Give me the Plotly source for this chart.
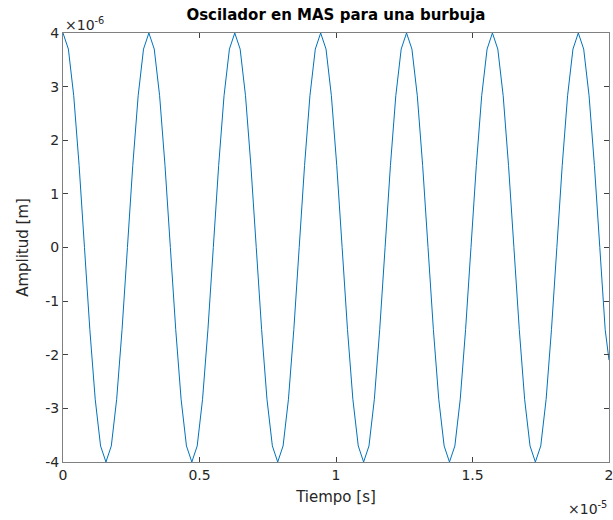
import plotly.graph_objects as go

# Time samples (microseconds) and amplitude (micrometres)
time_us = [0.000, 0.197, 0.393, 0.590, 0.787, 0.983, 1.180, 1.376, 1.573, 1.770,
           1.966, 2.163, 2.360, 2.556, 2.753, 2.949, 3.146, 3.343, 3.539, 3.736,
           3.933, 4.129, 4.326, 4.522, 4.719, 4.916, 5.112, 5.309, 5.506, 5.702,
           5.899, 6.096, 6.292, 6.489, 6.685, 6.882, 7.079, 7.275, 7.472, 7.669,
           7.865, 8.062, 8.258, 8.455, 8.652, 8.848, 9.045, 9.242, 9.438, 9.635,
           9.831, 10.028, 10.225, 10.421, 10.618, 10.815, 11.011, 11.208, 11.405, 11.601,
           11.798, 11.994, 12.191, 12.388, 12.584, 12.781, 12.978, 13.174, 13.371, 13.567,
           13.764, 13.961, 14.157, 14.354, 14.551, 14.747, 14.944, 15.140, 15.337, 15.534,
           15.730, 15.927, 16.124, 16.320, 16.517, 16.714, 16.910, 17.107, 17.303, 17.500,
           17.697, 17.893, 18.090, 18.287, 18.483, 18.680, 18.876, 19.073, 19.270, 19.466,
           19.663, 19.860, 20.000]

amp_um = [4.00, 3.70, 2.83, 1.53, 0.00, -1.53, -2.83, -3.70, -4.00, -3.70,
          -2.83, -1.53, 0.00, 1.53, 2.83, 3.70, 4.00, 3.70, 2.83, 1.53,
          0.00, -1.53, -2.83, -3.70, -4.00, -3.70, -2.83, -1.53, 0.00, 1.53,
          2.83, 3.70, 4.00, 3.70, 2.83, 1.53, 0.00, -1.53, -2.83, -3.70,
          -4.00, -3.70, -2.83, -1.53, 0.00, 1.53, 2.83, 3.70, 4.00, 3.70,
          2.83, 1.53, 0.00, -1.53, -2.83, -3.70, -4.00, -3.70, -2.83, -1.53,
          0.00, 1.53, 2.83, 3.70, 4.00, 3.70, 2.83, 1.53, 0.00, -1.53,
          -2.83, -3.70, -4.00, -3.70, -2.83, -1.53, 0.00, 1.53, 2.83, 3.70,
          4.00, 3.70, 2.83, 1.53, 0.00, -1.53, -2.83, -3.70, -4.00, -3.70,
          -2.83, -1.53, 0.00, 1.53, 2.83, 3.70, 4.00, 3.70, 2.83, 1.53,
          0.00, -1.53, -2.10]

x_tickvals = [0, 0.5e-5, 1e-5, 1.5e-5, 2e-5]
x_ticktext = ["0", "0.5", "1", "1.5", "2"]
y_tickvals = [-4e-6, -3e-6, -2e-6, -1e-6, 0, 1e-6, 2e-6, 3e-6, 4e-6]
y_ticktext = ["-4", "-3", "-2", "-1", "0", "1", "2", "3", "4"]

t = [v * 1e-6 for v in time_us]
a = [v * 1e-6 for v in amp_um]

FONT = "DejaVu Sans"
AX = "#262626"

fig = go.Figure()
fig.add_trace(go.Scatter(x=t, y=a, mode="lines",
                         line=dict(color="#0072BD", width=1)))

axis_common = dict(showline=True, linecolor="#808080", linewidth=1, mirror="allticks",
                   ticks="inside", ticklen=5, tickcolor="#404040", showgrid=False,
                   zeroline=False, ticklabeloverflow="allow", automargin=False,
                   tickfont=dict(family=FONT, size=14, color=AX))

fig.update_layout(
    width=613, height=520,
    margin=dict(l=63, r=4, t=33, b=58),
    paper_bgcolor="white", plot_bgcolor="white",
    showlegend=False,
    title=dict(text="<b>Oscilador en MAS para una burbuja</b>", x=0.548, xanchor="center",
               y=0.972, yanchor="middle", font=dict(family=FONT, size=15, color="#000000"),
               automargin=False),
    xaxis=dict(range=[0, 2.00001e-5], tickvals=x_tickvals, ticktext=x_ticktext,
               title=dict(text="Tiempo [s]", font=dict(family=FONT, size=15, color=AX), standoff=9),
               **axis_common),
    yaxis=dict(range=[-4e-6, 4e-6], tickvals=y_tickvals, ticktext=y_ticktext,
               title=dict(text="Amplitud [m]", font=dict(family=FONT, size=15, color=AX), standoff=12),
               **axis_common),
)

fig.add_annotation(text="×10<sup>-6</sup>", xref="paper", yref="paper", x=0, y=1,
                   xanchor="left", yanchor="bottom", showarrow=False, yshift=-2,
                   font=dict(family=FONT, size=14, color=AX))
fig.add_annotation(text="×10<sup>-5</sup>", xref="paper", yref="paper", x=1, y=0,
                   xanchor="right", yanchor="top", showarrow=False, yshift=-35,
                   font=dict(family=FONT, size=14, color=AX))

fig.write_html("out.html")
